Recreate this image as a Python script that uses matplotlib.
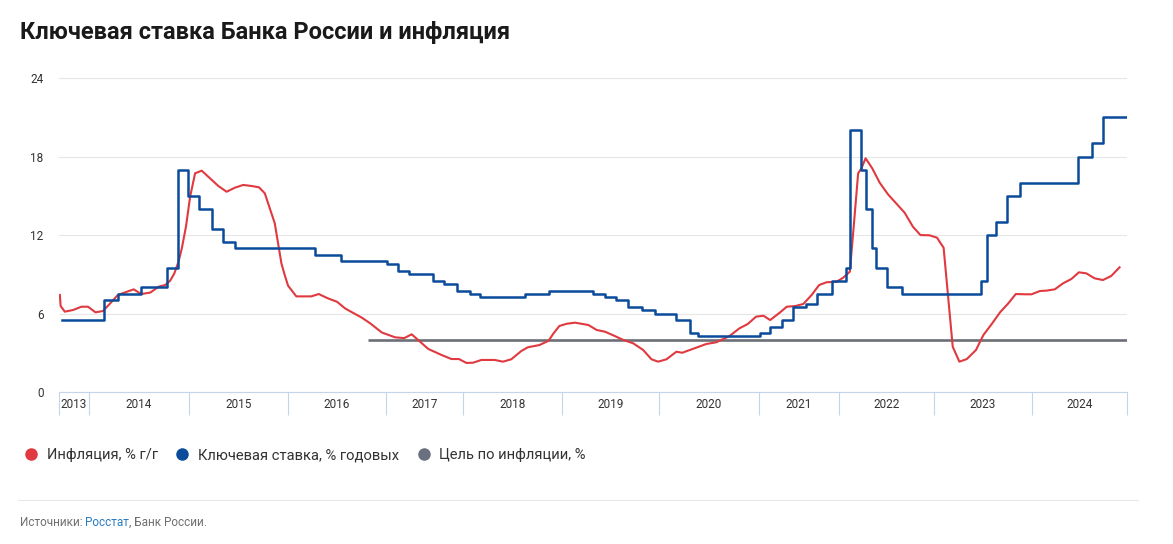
import matplotlib
matplotlib.use("Agg")
import matplotlib.pyplot as plt
from matplotlib.lines import Line2D

plt.rcParams["font.family"] = ["Roboto", "DejaVu Sans"]

# ── Colours ─────────────────────────────────────────────────────────
RED = "#e0393f"
BLUE = "#0a4b9b"
GRAY = "#6c6f78"
AXIS = "#c6d4ea"
GRID = "#e6e6e6"
TEXT = "#333333"

# ── Data (x = position on the chart's monthly axis) ─────────────────
years = ["2013", "2014", "2015", "2016", "2017", "2018",
         "2019", "2020", "2021", "2022", "2023", "2024"]
year_edges = [0, 3.6, 15.7, 27.6, 39.4, 48.7, 60.6,
              72.3, 84.3, 94.0, 105.4, 117.3, 128.7]

infl_x = [0.1, 0.2, 0.7, 1.7, 2.7, 3.5, 4.4, 5.3, 6.1, 7.1, 8.0, 9.0, 9.9,
          11.0, 12.0, 12.8, 13.4, 13.9, 14.4, 14.8, 15.3, 15.8, 16.4, 17.2,
          18.2, 19.2, 20.2, 21.2, 22.2, 23.2, 24.1, 24.8, 25.4, 26.0, 26.8,
          27.2, 27.6, 28.6, 30.4, 31.3, 32.4, 33.5, 34.5, 35.9, 36.5, 37.5,
          38.9, 40.5, 41.6, 42.5, 43.5, 44.5, 46.1, 47.3, 48.2, 49.1, 49.9,
          50.9, 52.5, 53.5, 54.5, 55.7, 56.5, 57.9, 59.0, 59.6, 60.3, 61.2,
          62.2, 63.8, 64.8, 65.8, 66.8, 68.0, 69.2, 70.4, 71.4, 72.2, 73.2,
          74.4, 75.1, 76.0, 78.0, 79.2, 80.8, 82.0, 83.0, 84.0, 84.9, 85.7,
          86.9, 87.7, 88.7, 89.7, 90.7, 91.6, 92.5, 93.7, 94.5, 95.3, 95.8,
          96.3, 96.7, 97.2, 98.0, 98.9, 99.9, 100.7, 101.9, 102.9, 103.8,
          104.9, 105.8, 106.6, 107.7, 108.5, 109.4, 110.5, 111.4, 112.4,
          113.4, 114.4, 115.3, 116.4, 117.2, 118.2, 119.0, 120.0, 121.0,
          122.0, 122.9, 123.8, 124.8, 125.8, 126.8, 127.8]
infl_v = [7.42, 6.57, 6.14, 6.27, 6.52, 6.52, 6.09, 6.19, 6.73, 7.42, 7.62,
          7.85, 7.49, 7.6, 8.05, 8.18, 8.51, 9.07, 9.96, 10.98, 12.64, 14.93,
          16.72, 16.92, 16.34, 15.75, 15.31, 15.62, 15.83, 15.75, 15.65,
          15.19, 14.04, 12.9, 9.84, 8.94, 8.13, 7.31, 7.31, 7.49, 7.16, 6.9,
          6.38, 5.89, 5.68, 5.25, 4.55, 4.18, 4.12, 4.41, 3.85, 3.29, 2.83,
          2.52, 2.52, 2.22, 2.24, 2.45, 2.45, 2.32, 2.5, 3.13, 3.42, 3.59,
          3.92, 4.49, 5.05, 5.22, 5.3, 5.12, 4.74, 4.61, 4.33, 3.98, 3.72,
          3.21, 2.5, 2.32, 2.5, 3.08, 3.0, 3.21, 3.67, 3.8, 4.28, 4.87, 5.2,
          5.76, 5.83, 5.5, 6.09, 6.52, 6.57, 6.73, 7.42, 8.18, 8.39, 8.43,
          8.74, 9.2, 12.9, 16.72, 17.1, 17.87, 17.1, 16.0, 15.11, 14.55,
          13.71, 12.64, 12.0, 11.98, 11.8, 11.03, 3.46, 2.32, 2.52, 3.21,
          4.36, 5.2, 6.09, 6.78, 7.49, 7.47, 7.47, 7.72, 7.75, 7.85, 8.31,
          8.64, 9.15, 9.07, 8.69, 8.56, 8.87, 9.53]

rate_x = [0.4, 5.4, 7.1, 9.9, 13.0, 14.4, 15.5, 16.9, 18.4, 19.8, 21.2,
          30.8, 34.0, 39.5, 40.8, 42.2, 45.1, 46.4, 48.0, 49.5, 50.7, 56.1,
          59.0, 64.3, 65.8, 67.1, 68.6, 70.2, 71.8, 74.3, 76.0, 77.0, 84.5,
          85.7, 87.1, 88.4, 90.0, 91.3, 93.1, 94.8, 95.3, 96.6, 97.2, 98.0,
          98.4, 99.8, 101.6, 111.1, 111.8, 112.9, 114.2, 115.8, 122.8,
          124.5, 125.8, 128.8]
rate_v = [5.5, 7.0, 7.5, 8.0, 9.5, 17.0, 15.0, 14.0, 12.5, 11.5, 11.0,
          10.5, 10.0, 9.75, 9.25, 9.0, 8.5, 8.25, 7.75, 7.5, 7.25, 7.5,
          7.75, 7.5, 7.25, 7.0, 6.5, 6.25, 6.0, 5.5, 4.5, 4.25, 4.5, 5.0,
          5.5, 6.5, 6.75, 7.5, 8.5, 9.5, 20.0, 17.0, 14.0, 11.0, 9.5, 8.0,
          7.5, 8.5, 12.0, 13.0, 15.0, 16.0, 18.0, 19.0, 21.0, 21.0]

target_x = [37.2, 128.7]
target_v = [4.0, 4.0]

yticks = [0, 6, 12, 18, 24]

labels = ["Инфляция, % г/г", "Ключевая ставка, % годовых", "Цель по инфляции, %"]
source_parts = [("Источники: ", "#6f6f6f"), ("Росстат", "#2b7bbf"),
                (", Банк России.", "#6f6f6f")]


def build_chart():
    W, H = 1173, 544
    fig = plt.figure(figsize=(W / 100, H / 100), dpi=100, facecolor="white")
    ax = fig.add_axes([59 / W, (H - 392) / H, 1068 / W, 327 / H])

    ax.plot(target_x, target_v, color=GRAY, lw=1.9, zorder=2,
            solid_capstyle="butt")
    ax.plot(infl_x, infl_v, color=RED, lw=1.5, zorder=3)
    ax.step(rate_x, rate_v, where="post", color=BLUE, lw=1.8, zorder=4)

    ax.set_xlim(year_edges[0], year_edges[-1])
    ax.set_ylim(0, 25)

    # ── Y axis ──────────────────────────────────────────────────────
    ax.set_yticks(yticks)
    ax.set_yticklabels([str(t) for t in yticks], fontsize=8.5, color=TEXT)
    ax.tick_params(axis="y", length=0, pad=11)
    ax.yaxis.grid(True, color=GRID, lw=0.8, zorder=0)
    ax.set_axisbelow(True)

    # ── X axis: year separators and centred year labels ─────────────
    mids = [(a + b) / 2 for a, b in zip(year_edges[:-1], year_edges[1:])]
    ax.set_xticks(mids)
    ax.set_xticklabels(years, fontsize=8.5, color=TEXT)
    ax.set_xticks(year_edges, minor=True)
    ax.tick_params(axis="x", which="major", length=0, pad=4.5)
    ax.tick_params(axis="x", which="minor", length=16.5, width=0.8,
                   color=AXIS, direction="out")

    for side in ["top", "right", "left"]:
        ax.spines[side].set_visible(False)
    ax.spines["bottom"].set_color(AXIS)
    ax.spines["bottom"].set_linewidth(0.8)

    # ── Title ───────────────────────────────────────────────────────
    fig.text(20 / W, 1 - 32 / H, "Ключевая ставка Банка России и инфляция",
             fontsize=17, fontweight="bold", color="#1a1a1a",
             ha="left", va="center")

    # ── Legend ──────────────────────────────────────────────────────
    handles = [
        Line2D([], [], ls="", marker="o", markersize=8, color=c, label=l)
        for c, l in zip([RED, BLUE, "#6b7080"], labels)
    ]
    fig.legend(handles=handles, loc="center left",
               bbox_to_anchor=(25 / W, 1 - 455 / H), ncol=3, frameon=False,
               fontsize=10.6, handlelength=0.8, handletextpad=0.68,
               columnspacing=1.25, borderpad=0, borderaxespad=0,
               labelcolor=TEXT)

    # ── Footer ──────────────────────────────────────────────────────
    fig.add_artist(Line2D([18 / W, 1138 / W], [1 - 500 / H] * 2,
                          color="#e8e8e8", lw=0.8))
    renderer = fig.canvas.get_renderer()
    x = 20 / W
    for part, col in source_parts:
        t = fig.text(x, 1 - 522 / H, part, fontsize=8.5, color=col,
                     ha="left", va="center")
        x = fig.transFigure.inverted().transform(
            (t.get_window_extent(renderer).x1, 0))[0]
    return fig


if __name__ == "__main__":
    fig = build_chart()
    fig.savefig("out.png", dpi=100, facecolor="white")
